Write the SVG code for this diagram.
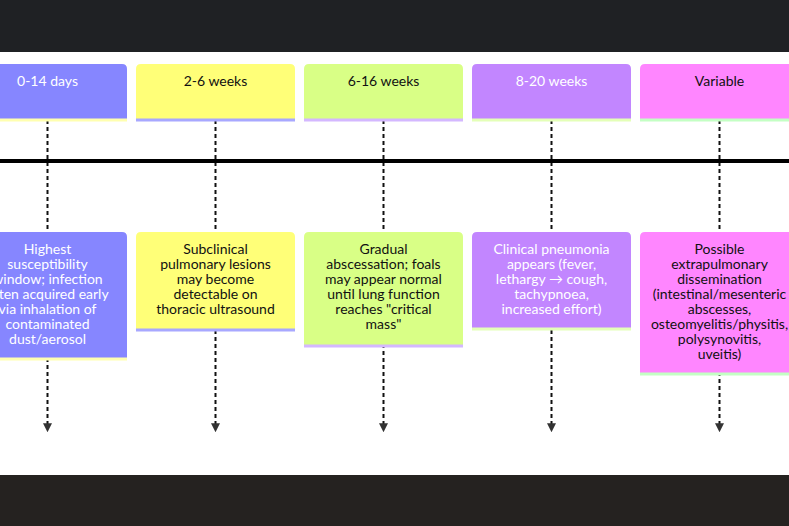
<svg xmlns="http://www.w3.org/2000/svg" width="789" height="526" viewBox="0 0 789 526">
<style>
.t{font-family:"Lato","Liberation Sans",sans-serif;font-size:14px;text-anchor:middle}
.w{fill:#ffffff}.k{fill:#111111}
.dash{stroke:#111;stroke-width:2;stroke-dasharray:4,3;fill:none}
</style>
<defs>
<marker id="ah" viewBox="0 0 10 10" refX="2" refY="5" markerWidth="9" markerHeight="9" markerUnits="userSpaceOnUse" orient="auto">
<path d="M0 0 L10 5 L0 10 Z" fill="#333"/>
</marker>
</defs>
<rect x="0" y="0" width="789" height="52" fill="#1f2124"/>
<rect x="0" y="52" width="789" height="423" fill="#ffffff"/>
<rect x="0" y="475" width="789" height="51" fill="#252220"/>
<g id="connectors">
<line class="dash" x1="47.5" y1="120" x2="47.5" y2="425" marker-end="url(#ah)"/>
<line class="dash" x1="215.5" y1="120" x2="215.5" y2="425" marker-end="url(#ah)"/>
<line class="dash" x1="383.5" y1="120" x2="383.5" y2="425" marker-end="url(#ah)"/>
<line class="dash" x1="551.5" y1="120" x2="551.5" y2="425" marker-end="url(#ah)"/>
<line class="dash" x1="719.5" y1="120" x2="719.5" y2="425" marker-end="url(#ah)"/>
<line x1="0" y1="161" x2="789" y2="161" stroke="#000" stroke-width="4"/>
</g>
<g id="p1">
<path d="M-32 119 V69 q0 -5 5 -5 H122 q5 0 5 5 V119 Z" fill="#8686ff"/>
<line x1="-32" y1="120" x2="127" y2="120" stroke="#ffffb0" stroke-width="3"/>
<text class="t w" x="47.5" y="86">0-14 days</text>
</g>
<g id="p2">
<path d="M136 119 V69 q0 -5 5 -5 H290 q5 0 5 5 V119 Z" fill="#ffff78"/>
<line x1="136" y1="120" x2="295" y2="120" stroke="#a8a8ff" stroke-width="3"/>
<text class="t k" x="215.5" y="86">2-6 weeks</text>
</g>
<g id="p3">
<path d="M304 119 V69 q0 -5 5 -5 H458 q5 0 5 5 V119 Z" fill="#d9ff86"/>
<line x1="304" y1="120" x2="463" y2="120" stroke="#d4b8ff" stroke-width="3"/>
<text class="t k" x="383.5" y="86">6-16 weeks</text>
</g>
<g id="p4">
<path d="M472 119 V69 q0 -5 5 -5 H626 q5 0 5 5 V119 Z" fill="#c286ff"/>
<line x1="472" y1="120" x2="631" y2="120" stroke="#e4ffb8" stroke-width="3"/>
<text class="t w" x="551.5" y="86">8-20 weeks</text>
</g>
<g id="p5">
<path d="M640 119 V69 q0 -5 5 -5 H794 q5 0 5 5 V119 Z" fill="#ff86ff"/>
<line x1="640" y1="120" x2="799" y2="120" stroke="#c4ffc4" stroke-width="3"/>
<text class="t k" x="719.5" y="86">Variable</text>
</g>
<g id="e1">
<path d="M-32 358 V237 q0 -5 5 -5 H122 q5 0 5 5 V358 Z" fill="#8686ff"/>
<line x1="-32" y1="359" x2="127" y2="359" stroke="#ffffb0" stroke-width="3"/>
<text class="t w" x="47.5" y="254">Highest<tspan x="47.5" dy="15">susceptibility</tspan><tspan x="47.5" dy="15">window; infection</tspan><tspan x="47.5" dy="15">often acquired early</tspan><tspan x="47.5" dy="15">via inhalation of</tspan><tspan x="47.5" dy="15">contaminated</tspan><tspan x="47.5" dy="15">dust/aerosol</tspan></text>
</g>
<g id="e2">
<path d="M136 329 V237 q0 -5 5 -5 H290 q5 0 5 5 V329 Z" fill="#ffff78"/>
<line x1="136" y1="330" x2="295" y2="330" stroke="#a8a8ff" stroke-width="3"/>
<text class="t k" x="215.5" y="254">Subclinical<tspan x="215.5" dy="15">pulmonary lesions</tspan><tspan x="215.5" dy="15">may become</tspan><tspan x="215.5" dy="15">detectable on</tspan><tspan x="215.5" dy="15">thoracic ultrasound</tspan></text>
</g>
<g id="e3">
<path d="M304 345 V237 q0 -5 5 -5 H458 q5 0 5 5 V345 Z" fill="#d9ff86"/>
<line x1="304" y1="346" x2="463" y2="346" stroke="#d4b8ff" stroke-width="3"/>
<text class="t k" x="383.5" y="254">Gradual<tspan x="383.5" dy="15">abscessation; foals</tspan><tspan x="383.5" dy="15">may appear normal</tspan><tspan x="383.5" dy="15">until lung function</tspan><tspan x="383.5" dy="15">reaches "critical</tspan><tspan x="383.5" dy="15">mass"</tspan></text>
</g>
<g id="e4">
<path d="M472 328 V237 q0 -5 5 -5 H626 q5 0 5 5 V328 Z" fill="#c286ff"/>
<line x1="472" y1="329" x2="631" y2="329" stroke="#e4ffb8" stroke-width="3"/>
<text class="t w" x="551.5" y="254">Clinical pneumonia<tspan x="551.5" dy="15">appears (fever,</tspan><tspan x="551.5" dy="15">lethargy → cough,</tspan><tspan x="551.5" dy="15">tachypnoea,</tspan><tspan x="551.5" dy="15">increased effort)</tspan></text>
</g>
<g id="e5">
<path d="M640 373 V237 q0 -5 5 -5 H794 q5 0 5 5 V373 Z" fill="#ff86ff"/>
<line x1="640" y1="374" x2="799" y2="374" stroke="#c4ffc4" stroke-width="3"/>
<text class="t k" x="719.5" y="254">Possible<tspan x="719.5" dy="15">extrapulmonary</tspan><tspan x="719.5" dy="15">dissemination</tspan><tspan x="719.5" dy="15">(intestinal/mesenteric</tspan><tspan x="719.5" dy="15">abscesses,</tspan><tspan x="719.5" dy="15">osteomyelitis/physitis,</tspan><tspan x="719.5" dy="15">polysynovitis,</tspan><tspan x="719.5" dy="15">uveitis)</tspan></text>
</g>
</svg>
